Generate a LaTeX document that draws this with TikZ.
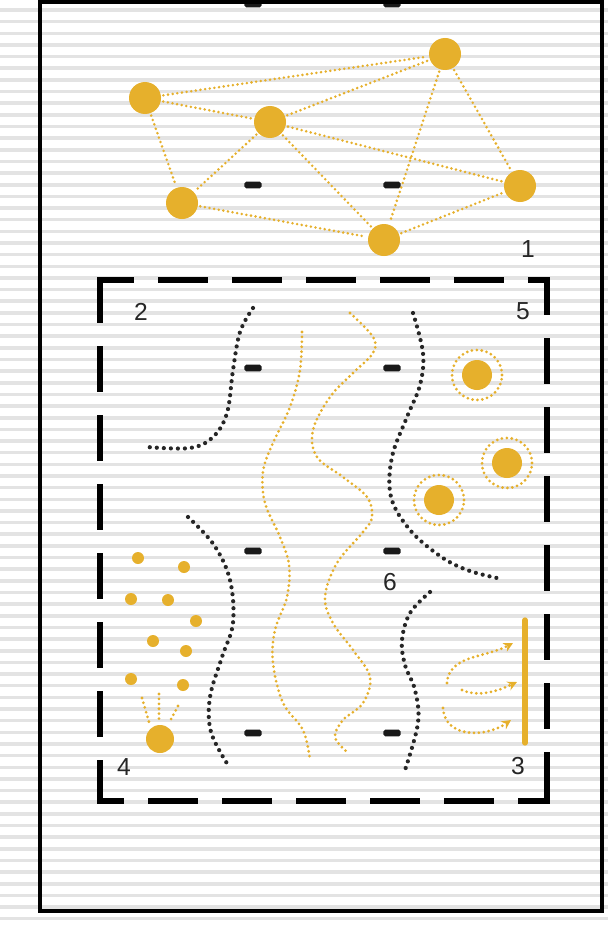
\documentclass[tikz,border=0pt]{standalone}
\usepackage{fontspec}
\setmainfont{Liberation Sans}
\usepackage{tikz}
\usetikzlibrary{arrows.meta, positioning}
\definecolor{plangold}{HTML}{E6B02C}
\definecolor{planstripe}{HTML}{E3E3E3}
\tikzset{
  planframe/.style={draw=black, line width=4.2pt},
  zoneside/.style={draw=black, line width=5pt},
  zoneh/.style={zoneside, dash pattern=on 1.5cm off 0.72cm},
  zonev/.style={zoneside, dash pattern=on 1.38cm off 0.69cm},
  pillar/.style={fill=black!90, rounded corners=1.5pt, minimum width=0.52cm,
    minimum height=0.2cm, inner sep=0pt},
  hub/.style={circle, fill=plangold, minimum size=0.96cm, inner sep=0pt},
  hublink/.style={draw=plangold, line width=2.4pt, dash pattern=on 0pt off 4pt, line cap=round},
  goldtrail/.style={draw=plangold, line width=2.6pt, dash pattern=on 0pt off 4.2pt, line cap=round},
  darktrail/.style={draw=black!85, line width=3.6pt, dash pattern=on 0pt off 6pt, line cap=round},
  seed/.style={circle, fill=plangold, minimum size=0.36cm, inner sep=0pt},
  sun/.style={circle, fill=plangold, minimum size=0.84cm, inner sep=0pt},
  halo/.style={circle, goldtrail, minimum size=1.5cm, inner sep=0pt},
  zonelabel/.style={font=\fontsize{21}{24}\selectfont, text=black!85, inner sep=0pt},
}

\begin{document}
\begin{tikzpicture}[x=0.03cm, y=-0.03cm]
  \useasboundingbox (0,0) rectangle (608,925);
  % Hintergrund mit Streifen
  \fill[white] (0,0) rectangle (608,925);
  \foreach \k in {0,...,78}
    \draw[planstripe, line width=3pt] (0,10+11.65*\k) -- (608,10+11.65*\k);

  % Stuetzen
  \foreach \y in {4,185,368,551,733}{
    \foreach \x/\s in {253/l,392/r}{
      \node[pillar] (p\s\y) at (\x,\y) {};
    }
  }

  % Rahmen
  \draw[planframe] (40,2) rectangle (602,911);

  % Bereich (gestrichelt)
  \coordinate (zNW) at (97,280);
  \coordinate (zNE) at (550,280);
  \coordinate (zSW) at (97,801);
  \coordinate (zSE) at (550,801);
  \coordinate (zNWv) at (100,277);
  \coordinate (zSWv) at (100,804);
  \coordinate (zNEv) at (547,277);
  \coordinate (zSEv) at (547,804);
  \draw[zoneh, dash phase=0.39cm] (zNW) -- (zNE);
  \draw[zoneh, dash phase=0.69cm] (zSW) -- (zSE);
  \draw[zonev] (zNWv) -- (zSWv);
  \draw[zonev, dash phase=0.24cm] (zNEv) -- (zSEv);

  % Netz oben
  \node[hub] (a) at (145,98) {};
  \node[hub] (b) at (270,122) {};
  \node[hub] (c) at (445,54) {};
  \node[hub] (d) at (182,203) {};
  \node[hub] (e) at (520,186) {};
  \node[hub] (f) at (384,240) {};
  \foreach \u/\v in {a/c,a/b,a/d,b/c,b/d,b/e,b/f,c/f,c/e,d/f,f/e}
    \draw[hublink, shorten <=2pt, shorten >=2pt] (\u) -- (\v);

  % Linien im Bereich
  \draw[darktrail] plot[smooth, tension=0.6] coordinates
    {(253,308) (240,332) (233,370) (227,413) (213,437) (190,448) (147,447)};
  \draw[darktrail] plot[smooth, tension=0.6] coordinates
    {(188,517) (214,545) (230,580) (233,623) (222,657) (210,697) (211,732) (228,765)};
  \draw[darktrail] plot[smooth, tension=0.6] coordinates
    {(413,313) (423,353) (420,385) (407,417) (392,457) (391,497) (410,530) (440,556) (467,570) (497,578)};
  \draw[darktrail] plot[smooth, tension=0.6] coordinates
    {(430,592) (410,613) (402,640) (405,665) (415,690) (418,723) (405,770)};
  \draw[goldtrail] plot[smooth, tension=0.6] coordinates
    {(302,332) (300,370) (290,407) (272,445) (263,472) (265,503) (280,537) (289,565)
     (287,597) (275,630) (273,663) (283,703) (303,730) (310,760)};
  \draw[goldtrail] plot[smooth, tension=0.6] coordinates
    {(350,313) (373,337) (373,353) (353,373) (330,397) (313,430) (317,457) (343,477)
     (367,497) (372,517) (363,532) (337,563) (325,597) (333,623) (353,650) (370,677)
     (363,703) (343,720) (335,737) (347,752)};

  % Punkte mit Hof
  \foreach \x/\y [count=\i] in {477/375,507/463,439/500}{
    \node[hub, minimum size=0.9cm] (o\i) at (\x,\y) {};
    \node[halo] (h\i) at (o\i) {};
  }

  % Streuung und Quelle
  \foreach \x/\y [count=\i] in {138/558,184/567,131/599,168/600,196/621,153/641,186/651,131/679,183/685}
    \node[seed] (s\i) at (\x,\y) {};
  \node[sun] (sun) at (160,739) {};
  \draw[goldtrail] (142,698) -- (149,722);
  \draw[goldtrail] (159,694) -- (159,721);
  \draw[goldtrail] (178,706) -- (169,723);

  % Wand mit Pfeilen
  \draw[plangold, line width=4.5pt, line cap=round] (525,620) -- (525,743);
  \draw[goldtrail, -{Stealth[length=8pt,width=8pt]}]
    (447,683) .. controls (449,655) and (485,658) .. (513,643);
  \draw[goldtrail, -{Stealth[length=8pt,width=8pt]}]
    (462,690) .. controls (480,698) and (500,690) .. (517,682);
  \draw[goldtrail, -{Stealth[length=8pt,width=8pt]}]
    (443,708) .. controls (445,738) and (485,738) .. (511,720);

  % Nummern
  \node[zonelabel] (lab1) at (528,249) {1};
  \node[zonelabel] (lab2) at (141,312) {2};
  \node[zonelabel] (lab3) at (518,766) {3};
  \node[zonelabel] (lab4) at (124,767) {4};
  \node[zonelabel] (lab5) at (523,311) {5};
  \node[zonelabel] (lab6) at (390,582) {6};
\end{tikzpicture}
\end{document}
